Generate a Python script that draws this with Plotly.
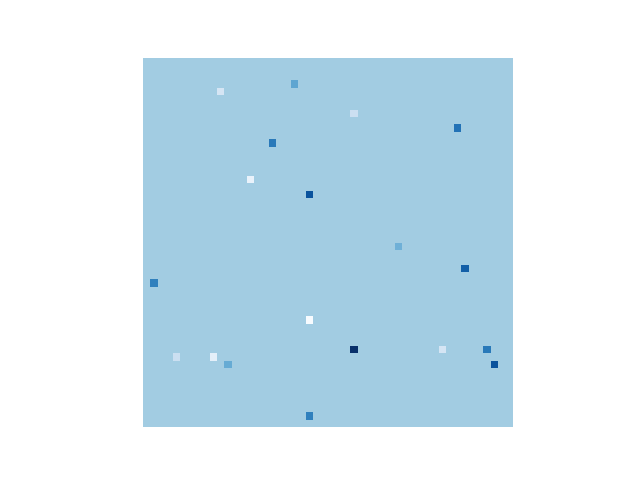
import numpy as np
import plotly.graph_objects as go

n_rows = 50
n_cols = 50
rows = [4, 3, 7, 9, 11, 16, 18, 25, 28, 30, 35, 39, 39, 39, 40, 40, 41, 41, 48]
cols = [10, 20, 28, 42, 17, 14, 22, 34, 43, 1, 22, 28, 40, 46, 4, 9, 11, 47, 22]
values = [-0.75, 0.7, -0.55, 1.5, 1.4, -1.15, 2.0, 0.5, 1.8, 1.3, -1.42, 2.5, -0.75, 1.4, -0.55, -1.05, 0.6, 2.0, 1.3]

z = np.zeros((n_rows, n_cols))
for r, c, v in zip(rows, cols, values):
    z[r, c] = v

blues = ['rgb(247,251,255)', 'rgb(222,235,247)', 'rgb(198,219,239)', 'rgb(158,202,225)',
         'rgb(107,174,214)', 'rgb(66,146,198)', 'rgb(33,113,181)', 'rgb(8,81,156)', 'rgb(8,48,107)']
cs = [[i / (len(blues) - 1), c] for i, c in enumerate(blues)]

fig = go.Figure(go.Heatmap(
    z=z, x=list(range(n_cols)), y=list(range(n_rows)),
    colorscale=cs, zmin=min(values), zmax=max(values), showscale=False,
    hoverongaps=False,
))
fig.update_layout(
    width=640, height=480,
    margin=dict(l=143, r=127, t=58, b=53),
    paper_bgcolor='white', plot_bgcolor='white',
    xaxis=dict(visible=False, range=[-0.5, n_cols - 0.5]),
    yaxis=dict(visible=False, range=[n_rows - 0.5, -0.5]),
)
fig.write_html("out.html")
